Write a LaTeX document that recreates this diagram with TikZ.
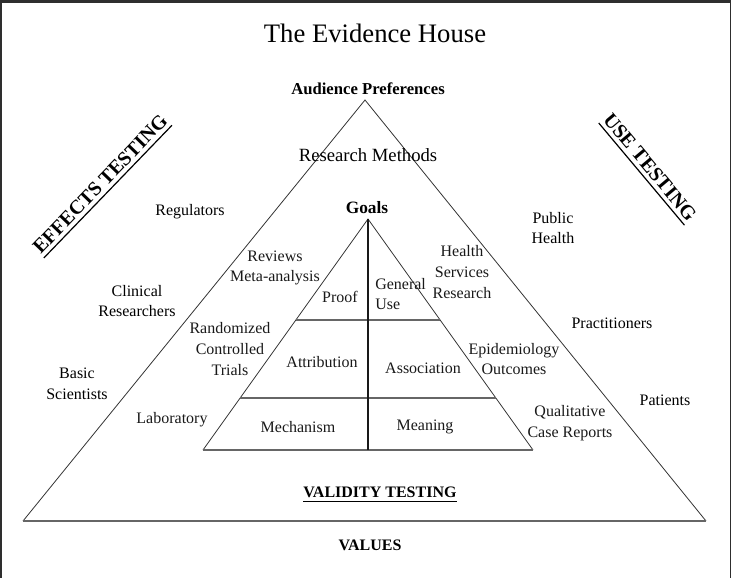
\documentclass[tikz,border=0pt]{standalone}
\usepackage{fontspec}
\setmainfont{Liberation Serif}
\usetikzlibrary{calc}
\begin{document}
\begin{tikzpicture}[x=0.75pt,y=-0.75pt,
  lbl/.style={font=\fontsize{12}{15.5}\selectfont, align=center, inner sep=0pt, text=black!90},
  hdr/.style={font=\bfseries\fontsize{12.5}{15}\selectfont, inner sep=0pt},
  side/.style={font=\bfseries\fontsize{15}{18}\selectfont, inner sep=0pt},
  uline/.style={draw=black, line width=0.9pt},
  diag/.style={draw=black!80, line width=0.6pt},
  hline/.style={draw=black!60, line width=1.1pt},
  vline/.style={draw=black!90, line width=0.9pt},
  frame/.style={fill=black!82, draw=none}]
\useasboundingbox (0,0) rectangle (731,578);
% frame of the scan
\fill[frame] (0,0) rectangle (731,2.5);
\fill[frame] (0,0) rectangle (1.5,578);
\fill[frame] (729.5,0) rectangle (731,578);
% outer triangle
\coordinate (oa) at (365,100);
\coordinate (obl) at (23,521);
\coordinate (obr) at (706,521);
\draw[diag] (obl) -- (oa) -- (obr);
\draw[hline] (obl) -- (obr);
% inner triangle
\coordinate (ia) at (368,219);
\coordinate (ibl) at (203,450);
\coordinate (ibr) at (533,450);
\draw[diag] (ibl) -- (ia) -- (ibr);
\draw[hline] (ibl) -- (ibr);
\draw[hline] ($(ia)!{101/231}!(ibl)$) -- ($(ia)!{101/231}!(ibr)$);
\draw[hline] ($(ia)!{179/231}!(ibl)$) -- ($(ia)!{179/231}!(ibr)$);
\draw[vline] (ia) -- (ia |- ibl);
% texts
\node[font=\fontsize{20}{24}\selectfont, inner sep=0pt] (title) at (375,33) {The Evidence House};
\node[hdr] (aud) at (368,89) {Audience Preferences};
\node[lbl, font=\fontsize{14}{16}\selectfont, text=black] (rm) at (368,155) {Research Methods};
\node[hdr, font=\bfseries\fontsize{13}{15}\selectfont] (goals) at (367,208) {Goals};
\node[side, rotate=46] (eff) at (100,184) {EFFECTS TESTING};
\draw[uline] ($(eff.south west)!3pt!-90:(eff.south east)$) -- ($(eff.south east)!3pt!90:(eff.south west)$);
\node[side, rotate=-50] (use) at (650,167) {USE TESTING};
\draw[uline] ($(use.south west)!3pt!-90:(use.south east)$) -- ($(use.south east)!3pt!90:(use.south west)$);
\node[lbl, text=black] (reg) at (190,212) {Regulators};
\node[lbl, text=black] (clin) at (137,301) {Clinical\\Researchers};
\node[lbl, text=black] (basic) at (77,384) {Basic\\Scientists};
\node[lbl] (rev) at (275,268) {Reviews\\Meta-analysis};
\node[lbl] (proof) at (340,297) {Proof};
\node[lbl] (rct) at (230,349) {Randomized\\Controlled\\Trials};
\node[lbl] (attr) at (322,362) {Attribution};
\node[lbl] (lab) at (172,420) {Laboratory};
\node[lbl] (mech) at (298,427) {Mechanism};
\node[lbl, text=black] (pub) at (553,228) {Public\\Health};
\node[lbl] (hsr) at (462,272) {Health\\Services\\Research};
\node[lbl, align=left, anchor=west] (gen) at (375,294) {General\\Use};
\node[lbl, text=black] (prac) at (612,323) {Practitioners};
\node[lbl] (epi) at (514,359) {Epidemiology\\Outcomes};
\node[lbl] (assoc) at (423,368) {Association};
\node[lbl, text=black] (pat) at (665,400) {Patients};
\node[lbl] (qual) at (570,423) {Qualitative\\Case Reports};
\node[lbl] (mean) at (425,427) {Meaning};
\node[hdr, font=\bfseries\fontsize{12}{14}\selectfont] (valid) at (380,492) {VALIDITY TESTING};
\draw[uline, line width=0.7pt] ($(valid.south west)+(0,3.5)$) -- ($(valid.south east)+(0,3.5)$);
\node[hdr, font=\bfseries\fontsize{12}{14}\selectfont] (values) at (370,545) {VALUES};
\end{tikzpicture}
\end{document}
